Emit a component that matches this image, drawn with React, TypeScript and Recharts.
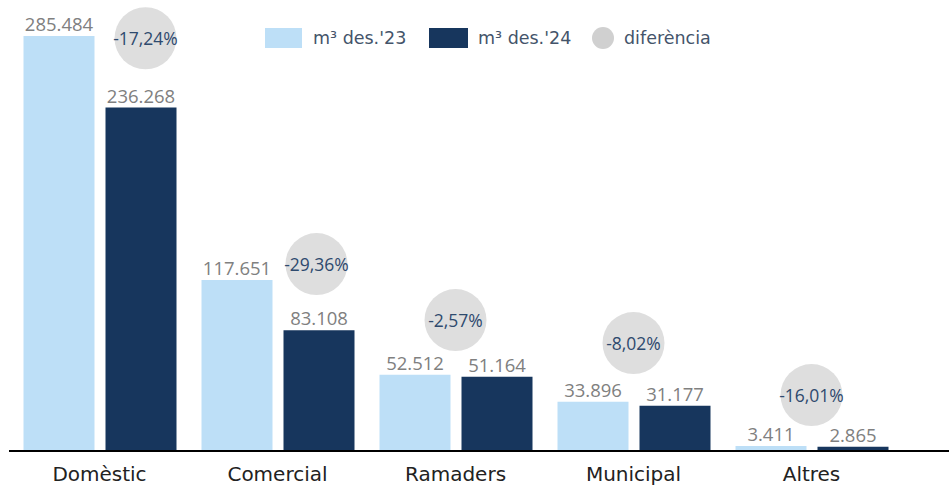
import React from "react";
import {
  ComposedChart,
  Bar,
  Scatter,
  XAxis,
  YAxis,
  LabelList,
} from "recharts";

const categories = ["Domèstic", "Comercial", "Ramaders", "Municipal", "Altres"];
const m3Des23 = [285484, 117651, 52512, 33896, 3411];
const m3Des24 = [236268, 83108, 51164, 31177, 2865];
const diferencia = [-17.24, -29.36, -2.57, -8.02, -16.01];
// height (in m³ units) where each difference bubble sits
const nivellBombolla = [284000, 128600, 90100, 74300, 38500];

const LIGHT = "#BDDFF7";
const DARK = "#17365D";
const BUBBLE = "#DEDEDE";
const FONT = "'DejaVu Sans', sans-serif";
const FONT_LIGHT = "'Open Sans', sans-serif";

const bubbleShift: Record<string, number> = { Domèstic: 46, Comercial: 39 };

const data = categories.map((c, i) => ({
  cat: c,
  d23: m3Des23[i],
  d24: m3Des24[i],
  dif: diferencia[i],
  nivell: nivellBombolla[i],
}));

function fmtNum(v: number) {
  return String(v).replace(/\B(?=(\d{3})+(?!\d))/g, ".");
}

function fmtPct(v: number) {
  return v.toFixed(2).replace(".", ",") + "%";
}

function Bubble(props: any) {
  const { cx, cy, payload } = props;
  const x = cx + (bubbleShift[payload.cat] || 0);
  return (
    <g>
      <circle cx={x} cy={cy} r={31} fill={BUBBLE} />
      <text
        x={x}
        y={cy}
        textAnchor="middle"
        dominantBaseline="central"
        fontSize={17.5}
        fontFamily={FONT_LIGHT}
        fill="#2E4A6E"
      >
        {fmtPct(payload.dif)}
      </text>
    </g>
  );
}

function Legend() {
  const txt = {
    position: "absolute",
    top: 27,
    fontSize: 17.5,
    lineHeight: "22px",
    color: "#44546A",
    fontFamily: FONT,
    whiteSpace: "nowrap",
  } as const;
  return (
    <>
      <div style={{ position: "absolute", left: 265, top: 28, width: 37, height: 20, background: LIGHT }} />
      <span style={{ ...txt, left: 313 }}>m³ des.'23</span>
      <div style={{ position: "absolute", left: 429, top: 28, width: 39, height: 20, background: DARK }} />
      <span style={{ ...txt, left: 478 }}>m³ des.'24</span>
      <div
        style={{
          position: "absolute",
          left: 592,
          top: 27,
          width: 22,
          height: 22,
          borderRadius: "50%",
          background: "#D0D0D0",
        }}
      />
      <span style={{ ...txt, left: 624 }}>diferència</span>
    </>
  );
}

export default function App() {
  return (
    <div style={{ position: "absolute", left: 0, top: 0, width: 949, height: 485, background: "#fff" }}>
      <ComposedChart
        width={949}
        height={485}
        data={data}
        margin={{ top: 15, right: 0, bottom: 0, left: 9 }}
        barGap={11}
      >
        <XAxis
          dataKey="cat"
          height={34}
          padding={{ left: 1.5, right: 48.5 }}
          axisLine={{ stroke: "#000", strokeWidth: 2 }}
          tickLine={false}
          tick={{ fontSize: 20, fill: "#222", fontFamily: FONT }}
          tickMargin={10}
        />
        <YAxis hide domain={[0, 300000]} />
        <Bar dataKey="d23" fill={LIGHT} barSize={71} isAnimationActive={false}>
          <LabelList
            dataKey="d23"
            position="top"
            formatter={(v: any) => fmtNum(Number(v))}
            style={{ fontSize: 18.5, fill: "#808080", fontFamily: FONT_LIGHT }}
          />
        </Bar>
        <Bar dataKey="d24" fill={DARK} barSize={71} isAnimationActive={false}>
          <LabelList
            dataKey="d24"
            position="top"
            formatter={(v: any) => fmtNum(Number(v))}
            style={{ fontSize: 18.5, fill: "#808080", fontFamily: FONT_LIGHT }}
          />
        </Bar>
        <Scatter dataKey="nivell" shape={Bubble} isAnimationActive={false} />
      </ComposedChart>
      <Legend />
    </div>
  );
}
